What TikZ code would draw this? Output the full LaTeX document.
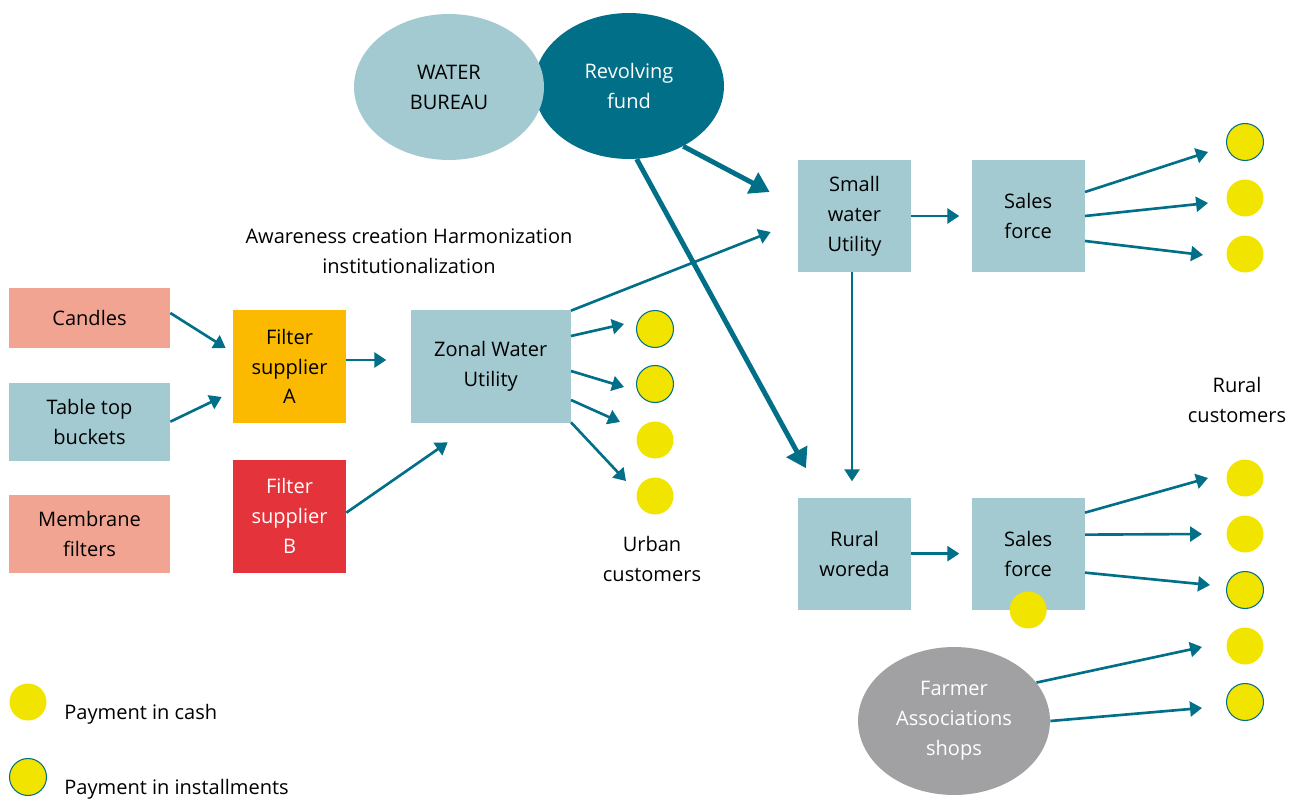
\documentclass[tikz,border=0pt]{standalone}
\usepackage{fontspec}
\setmainfont{Open Sans}
\usetikzlibrary{calc, positioning, arrows.meta, shapes.geometric}

\definecolor{flowteal}{HTML}{006F87}
\definecolor{boxblue}{HTML}{A3C9D1}
\definecolor{salmon}{HTML}{F2A492}
\definecolor{supplya}{HTML}{FBBA00}
\definecolor{supplyb}{HTML}{E4333A}
\definecolor{assocgray}{HTML}{A1A1A3}
\definecolor{dotyellow}{HTML}{F1E500}

\tikzset{
	box/.style={rectangle, fill=boxblue, align=center, inner sep=0pt,
		minimum width=2.26cm, minimum height=2.26cm},
	oval/.style={ellipse, align=center, inner sep=0pt,
		minimum width=3.8cm, minimum height=2.92cm},
	dot/.style={circle, fill=dotyellow, inner sep=0pt, minimum size=0.74cm},
	instal/.style={dot, draw=flowteal, line width=0.6pt},
	flow/.style={draw=flowteal, line width=1.5pt, -{Triangle[length=6.8pt, width=8.5pt]}},
	bigflow/.style={flow, line width=2.8pt, -{Triangle[length=11pt, width=13pt]}}
}

\begin{document}
\begin{tikzpicture}[x=0.02cm, y=-0.02cm, font=\fontsize{11.4}{17}\selectfont]

	\useasboundingbox (0,0) rectangle (1300,803);

	% nodes - products and suppliers %
	\node[box, fill=salmon, minimum width=3.22cm, minimum height=1.2cm] (cand) at (89.5,318) {Candles};
	\node[box, minimum width=3.22cm, minimum height=1.56cm, below=0.68cm of cand] (tab) {Table top\\buckets};
	\node[box, fill=salmon, minimum width=3.22cm, minimum height=1.56cm, below=0.68cm of tab] (mem) {Membrane\\filters};
	\node[box, fill=supplya] (fa) at (289.5,366.5) {Filter\\supplier\\A};
	\node[box, fill=supplyb, text=white, below=0.72cm of fa] (fb) {Filter\\supplier\\B};
	\node[box, minimum width=3.2cm, right=1.28cm of fa] (zwu) {Zonal Water\\Utility};

	% nodes - utilities and sales %
	\node[box, minimum height=2.24cm] (swu) at (854.5,216) {Small\\water\\Utility};
	\node[box, minimum height=2.24cm, right=1.2cm of swu] (sfa) {Sales\\force};
	\node[box, minimum height=2.24cm, below=4.5cm of swu] (rw) {Rural\\woreda};
	\node[box, minimum height=2.24cm, right=1.2cm of rw] (sfb) {Sales\\force};

	% nodes - ovals %
	\node[oval, fill=flowteal, text=white] (rf) at (629,86) {Revolving\\fund};
	\node[oval, fill=boxblue] (wb) at (449,87) {WATER\\BUREAU};
	\node[oval, fill=assocgray, text=white, minimum width=3.84cm, minimum height=2.96cm] (fas) at (954,721) {Farmer\\Associations\\shops};

	% nodes - customers %
	\node[instal] (u1) at (655,329) {};
	\node[instal] (u2) at (655,384) {};
	\node[dot] (u3) at (655,440) {};
	\node[dot] (u4) at (655,496) {};
	\node[instal] (r1) at (1245,142) {};
	\node[dot] (r2) at (1245,198) {};
	\node[dot] (r3) at (1245,254) {};
	\node[dot] (r4) at (1245,478) {};
	\node[dot] (r5) at (1245,534) {};
	\node[instal] (r6) at (1245,590) {};
	\node[dot] (r7) at (1245,646) {};
	\node[instal] (r8) at (1245,702) {};
	\node[dot] (sfdot) at (sfb.south) {};

	% labels %
	\node[align=center] (aware) at (409,251) {Awareness creation Harmonization\\institutionalization};
	\node[align=center] (urban) at (652,559) {Urban\\customers};
	\node[align=center] (rural) at (1237,400) {Rural\\customers};

	% legend %
	\node[dot] (lcash) at (28,702) {};
	\node[instal] (linst) at (28,777) {};
	\node[anchor=west, inner sep=0pt] (tcash) at (64,714) {Payment in cash};
	\node[anchor=west, inner sep=0pt] (tinst) at (64,789) {Payment in installments};

	% edges - left side %
	\draw[flow] ($(cand.east)+(0,-5)$) -- ($(fa.west)+(-7,-18.5)$);
	\draw[flow] (tab.east) -- ($(fa.west)+(-11,30.5)$);
	\draw[flow] ($(fa.east)+(0,-6.5)$) -- ($(zwu.west)+(-24,-6.5)$);
	\draw[flow] ($(fb.east)+(0,-3.5)$) -- ($(zwu.south)+(-43,19)$);
	\draw[flow] ($(zwu.north east)+(0,1)$) -- ($(swu.west)+(-27,16)$);

	% edges - urban customers %
	\draw[flow] ($(zwu.east)+(0,-30.5)$) -- ($(u1)+(-31,-5)$);
	\draw[flow] ($(zwu.east)+(0,4.5)$) -- ($(u2)+(-31,3)$);
	\draw[flow] ($(zwu.east)+(0,33.5)$) -- ($(u3)+(-35,-18)$);
	\draw[flow] ($(zwu.south east)+(0,-1)$) -- ($(u4)+(-29,-15)$);

	% edges - fund %
	\draw[bigflow] (rf.-48) -- ($(swu.west)+(-28,-24)$);
	\draw[bigflow] (rf.-84) -- ($(rw.north)+(-48.5,-29)$);

	% edges - right side %
	\draw[flow] (swu.east) -- ($(sfa.west)+(-12,0)$);
	\draw[flow] ($(swu.south)+(-2.5,0)$) -- ($(rw.north)+(-2.5,-16)$);
	\draw[flow] (rw.east) -- ($(sfb.west)+(-12,0)$);
	\draw[flow] ($(sfa.east)+(0,-24)$) -- ($(r1)+(-37,10)$);
	\draw[flow] (sfa.east) -- ($(r2)+(-37,5)$);
	\draw[flow] ($(sfa.east)+(0,25)$) -- ($(r3)+(-42,1)$);
	\draw[flow] ($(sfb.east)+(0,-41)$) -- ($(r4)+(-37,0)$);
	\draw[flow] ($(sfb.east)+(0,-19)$) -- ($(r5)+(-43,0)$);
	\draw[flow] ($(sfb.east)+(0,19)$) -- ($(r6)+(-35,-5)$);
	\draw[flow] (fas.25) -- ($(r7)+(-43,1)$);
	\draw[flow] (fas.east) -- ($(r8)+(-43,6)$);

\end{tikzpicture}
\end{document}
